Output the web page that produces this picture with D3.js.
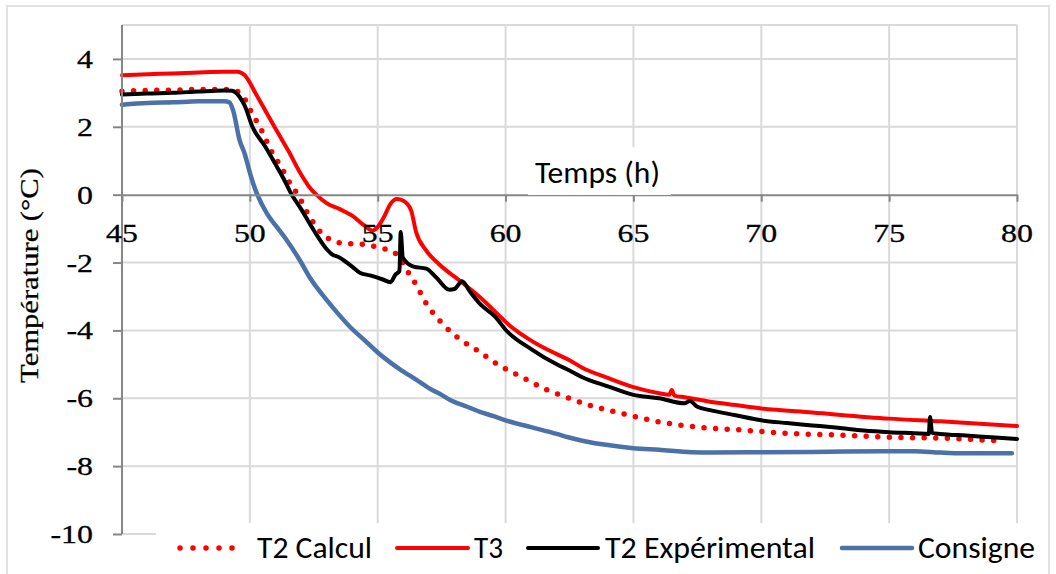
<!DOCTYPE html>
<html><head><meta charset="utf-8">
<script src="https://cdn.jsdelivr.net/npm/d3@7"></script>
<style>body{margin:0;background:#fff}svg{display:block}</style>
</head><body><svg id="c" width="1056" height="574"></svg>
<script>
// ---- data ----
const xTicks = [45,50,55,60,65,70,75,80];
const yTicks = [-10,-8,-6,-4,-2,0,2,4];
const seriesNames = ["T2 Calcul","T3","T2 Expérimental","Consigne"];

const calcT = [45,46,47,48,49,49.5,49.8,50,50.47,50.9,51.2,51.6,51.85,52.35,52.87,53.26,53.72,54.2,54.7,55.17,55.6,55.9,56.15,56.5,56.85,57.43,58.18,58.9,59.75,60.63,61.46,62.35,63.26,64.56,66.04,67.5,69.3,71.2,73.2,75,77.3,79.4];
const calcV = [3.05,3.07,3.08,3.1,3.1,3.05,2.82,2.52,1.88,1.2,0.85,0.3,0.03,-0.67,-1.18,-1.36,-1.44,-1.45,-1.5,-1.58,-1.68,-1.9,-2.24,-2.65,-3.15,-3.72,-4.24,-4.59,-5.03,-5.37,-5.7,-5.96,-6.2,-6.45,-6.7,-6.85,-6.94,-7.04,-7.09,-7.15,-7.18,-7.26];

const t3T = [45,46,47,48,49,49.5,49.8,50,50.2,50.5,51,51.5,52,52.3,52.6,53,53.5,54,54.5,54.8,55,55.25,55.5,55.75,56,56.3,56.5,56.9,57.4,58.2,59,59.8,60,61,62,62.5,63,64,65,66,66.4,66.5,66.6,67,68,69,70,72,75,77,80];
const t3V = [3.52,3.55,3.57,3.6,3.62,3.62,3.52,3.3,3.02,2.62,1.95,1.3,0.6,0.25,0.0,-0.25,-0.42,-0.62,-0.92,-1.06,-0.95,-0.65,-0.27,-0.13,-0.18,-0.45,-1.1,-1.65,-2.05,-2.53,-3.02,-3.6,-3.75,-4.3,-4.7,-4.88,-5.1,-5.4,-5.67,-5.85,-5.9,-5.76,-5.92,-5.97,-6.1,-6.2,-6.3,-6.42,-6.6,-6.68,-6.82];

const expT = [45,46,47,48,49,49.3,49.6,49.8,50.1,50.6,51,51.3,51.6,52,52.5,53,53.2,53.5,54,54.3,54.7,55.2,55.5,55.7,55.85,55.9,55.98,56.4,56.9,57.3,57.8,58,58.3,58.6,59,59.6,60,61,62,62.5,63,64,65,66,67,67.2,67.5,68,69,70,71,72,73,74,75,76,76.55,76.6,76.68,77,78,79,80];
const expV = [2.95,2.98,3.0,3.04,3.07,3.06,2.88,2.62,2.0,1.42,0.9,0.5,0.05,-0.42,-1.05,-1.6,-1.75,-1.85,-2.12,-2.3,-2.38,-2.5,-2.58,-2.35,-2.25,-1.1,-1.85,-2.12,-2.18,-2.45,-2.8,-2.78,-2.55,-2.85,-3.22,-3.6,-3.98,-4.55,-5.0,-5.18,-5.38,-5.65,-5.9,-6.0,-6.15,-6.08,-6.25,-6.35,-6.5,-6.65,-6.73,-6.8,-6.87,-6.95,-7.0,-7.03,-7.05,-6.55,-7.02,-7.05,-7.1,-7.15,-7.2];

const consT = [45,46,47,48,49,49.2,49.35,49.6,49.8,50,50.12,50.67,51,51.45,51.96,52.35,53,53.5,53.92,54.5,55,55.5,55.87,56.5,57,57.5,57.83,58.5,59,59.5,60,61,62,62.45,63,64,65,66,67.3,68,70,72,75,76,77,77.85,79.8];
const consV = [2.65,2.7,2.72,2.75,2.75,2.72,2.47,1.6,1.2,0.65,0.35,-0.56,-0.9,-1.35,-1.94,-2.45,-3.1,-3.55,-3.9,-4.3,-4.65,-4.95,-5.15,-5.45,-5.7,-5.9,-6.05,-6.25,-6.4,-6.52,-6.65,-6.85,-7.05,-7.15,-7.25,-7.38,-7.47,-7.52,-7.59,-7.6,-7.59,-7.58,-7.56,-7.56,-7.6,-7.62,-7.62];

// ---- chart ----
const svg = d3.select("#c");
const x = d3.scaleLinear().domain([45,80]).range([122,1017]);
const y = d3.scaleLinear().domain([-10,5]).range([534,25]);
const gridC = "#d9d9d9", axisC = "#868686";
const SERIF = '"Liberation Serif", "Times New Roman", serif';
const SANS = 'Carlito, Calibri, Lato, sans-serif';

// outer border
svg.append("rect").attr("x",7).attr("y",6).attr("width",1042).attr("height",600)
  .attr("fill","none").attr("stroke",gridC).attr("stroke-width",1.5);

// gridlines
const grid = svg.append("g");
[...yTicks.filter(v=>v!==0), 5].forEach(v=>{
  grid.append("line").attr("x1",x(45)).attr("x2",x(80)).attr("y1",y(v)).attr("y2",y(v))
    .attr("stroke",gridC).attr("stroke-width",2);
});
xTicks.filter(v=>v!==45).forEach(v=>{
  grid.append("line").attr("x1",x(v)).attr("x2",x(v)).attr("y1",y(5)).attr("y2",y(-10))
    .attr("stroke",gridC).attr("stroke-width",2);
});

// series
function pts(T,V){ return T.map((t,i)=>[t,V[i]]); }
const line = d3.line().x(d=>x(d[0])).y(d=>y(d[1])).curve(d3.curveMonotoneX);
const plot = svg.append("g").attr("fill","none").attr("stroke-linejoin","round").attr("stroke-linecap","round");
plot.append("path").attr("d",line(pts(calcT,calcV))).attr("stroke","#ff0000")
  .attr("stroke-width",5.5).attr("stroke-dasharray","0 11.6");
plot.append("path").attr("d",line(pts(t3T,t3V))).attr("stroke","#ff0000").attr("stroke-width",4);
plot.append("path").attr("d",line(pts(expT,expV))).attr("stroke","#000").attr("stroke-width",4);
plot.append("path").attr("d",line(pts(consT,consV))).attr("stroke","#4a72a8").attr("stroke-width",4.5);

// axes
const yAx = svg.append("g").attr("transform",`translate(${x(45)},0)`)
  .call(d3.axisLeft(y).tickValues(yTicks).tickSize(9).tickSizeOuter(0).tickFormat(""));
yAx.select(".domain").attr("d",`M0,${y(5)}V${y(-10)}`);
const xAx = svg.append("g").attr("transform",`translate(0,${y(0)})`)
  .call(d3.axisBottom(x).tickValues(xTicks).tickSize(7).tickSizeOuter(0).tickFormat(""));
[yAx,xAx].forEach(a=>{
  a.selectAll("path,line").attr("stroke",axisC).attr("stroke-width",2);
});

// tick labels
yTicks.forEach(v=>{
  svg.append("text").attr("transform",`translate(93,${y(v)+9}) scale(1.25,1)`)
    .attr("text-anchor","end").style("font-family",SERIF).style("font-size","25.5px")
    .attr("fill","#000").attr("stroke","#000").attr("stroke-width",0.3).text(v);
});
xTicks.forEach(v=>{
  svg.append("text").attr("transform",`translate(${x(v)},242) scale(1.25,1)`)
    .attr("text-anchor","middle").style("font-family",SERIF).style("font-size","25.5px")
    .attr("fill","#000").attr("stroke","#000").attr("stroke-width",0.3).text(v);
});

// axis titles
svg.append("text").attr("transform","translate(38,275.5) rotate(-90) scale(1.2,1)")
  .attr("text-anchor","middle").style("font-family",SERIF).style("font-size","25.5px")
  .attr("stroke","#000").attr("stroke-width",0.25).text("Température (°C)");
svg.append("rect").attr("x",528).attr("y",147).attr("width",143).attr("height",48).attr("fill","#fff");
svg.append("text").attr("x",535).attr("y",183).style("font-family",SANS).style("font-size","30px")
  .attr("textLength",125).attr("lengthAdjust","spacingAndGlyphs").text("Temps (h)");

// legend
svg.append("rect").attr("x",156).attr("y",523).attr("width",890).attr("height",51).attr("fill","#fff");
const legItems = [
  {name:seriesNames[0], x1:180, x2:245, tx:257, tw:115, color:"#ff0000", dash:"0 13", w:5.5},
  {name:seriesNames[1], x1:397, x2:468, tx:474, tw:29, color:"#ff0000", dash:null, w:4},
  {name:seriesNames[2], x1:528, x2:598, tx:605, tw:210, color:"#000", dash:null, w:4},
  {name:seriesNames[3], x1:842, x2:912, tx:918, tw:117, color:"#4a72a8", dash:null, w:4.5}
];
const leg = svg.append("g");
legItems.forEach(d=>{
  const l = leg.append("line").attr("x1",d.x1).attr("x2",d.x2).attr("y1",548).attr("y2",548)
    .attr("stroke",d.color).attr("stroke-width",d.w).attr("stroke-linecap","round");
  if(d.dash) l.attr("stroke-dasharray",d.dash);
  leg.append("text").attr("x",d.tx).attr("y",558).style("font-family",SANS).style("font-size","30px")
    .attr("textLength",d.tw).attr("lengthAdjust","spacingAndGlyphs").text(d.name);
});
</script></body></html>
